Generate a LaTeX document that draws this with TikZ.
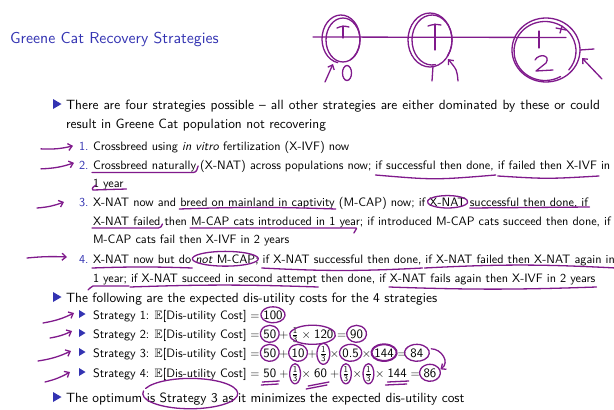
\documentclass[tikz,border=0pt]{standalone}
\usepackage{amssymb}
\usepackage{fontspec}
\setsansfont{lmsans10-regular.otf}[ItalicFont=lmsans10-oblique.otf]
\usetikzlibrary{calc,arrows.meta}
\definecolor{struct}{RGB}{51,51,178}
\definecolor{ink}{RGB}{128,26,140}
\tikzset{
 txt/.style={anchor=base west, inner sep=0pt, outer sep=0pt, font=\sffamily\fontsize{13.4}{16}\selectfont},
 stxt/.style={anchor=base west, inner sep=0pt, outer sep=0pt, font=\sffamily\fontsize{12.2}{15}\selectfont},
 mtxt/.style={anchor=base west, inner sep=0pt, outer sep=0pt, font=\sffamily\fontsize{12.8}{15}\selectfont},
 ttl/.style={anchor=base west, inner sep=0pt, font=\sffamily\fontsize{15.8}{19}\selectfont, text=struct},
 num/.style={stxt, text=struct},
 pen/.style={draw=ink, line width=1.3pt, line cap=round, line join=round},
 penhead/.style={pen, -{Straight Barb[length=4pt,width=7pt]}},
}
\newcommand\wsp{\hbox{}\ \hbox{}}
\newcommand\tchunk[3]{\node[stxt] (#1) at (#2.base east) {#3};}
\newcommand\mchunk[3]{\node[mtxt] (#1) at (#2.base east) {#3};}
\newcommand\op[1]{\kern0.5pt${}#1{}$\kern0.5pt}
\newcommand\inkcirc[4][]{\draw[pen,#1] let \p1=(#2.north east), \p2=(#2.south west), \n1={abs(\x1-\x2)/2+#3}, \n2={abs(\y1-\y2)/2+#4} in ($(\p1)!0.5!(\p2)$) ++(150:\n1 and \n2) arc[start angle=150, end angle=515, x radius=\n1, y radius=\n2];}
\newcommand\inkul[5][]{\draw[pen,#1] ($(#2.base west)+(-1,#4)$) to[bend right=#5] ($(#3.base east)+(1,#4)$);}
\newcommand\bigbul[1]{\fill[struct] (53,#1-5) -- ++(8.5,5) -- ++(-8.5,5) -- cycle;}
\newcommand\subbul[1]{\fill[struct] (79,#1-4) -- ++(6.5,4) -- ++(-6.5,4) -- cycle;}
\newcommand\third{$\frac{\mathsf{1}}{\mathsf{3}}$}
\begin{document}
\begin{tikzpicture}[x=1pt,y=-1pt]
\fill[white] (0,0) rectangle (614,410);
\useasboundingbox (0,0) rectangle (614,410);

% title
\node[ttl] (title) at (10,43) {Greene Cat Recovery Strategies};

% first bullet
\bigbul{104}
\node[txt] (l1) at (66,109) {\makebox[534pt][s]{There are four strategies possible – all other strategies are either dominated by these or could}};
\node[txt] (l1b) at (66,128) {result in Greene Cat population not recovering};

% item 1
\node[num] (n1n) at (79,150) {1.};
\node[stxt] (n1) at (93,150) {Crossbreed using \textit{in vitro} fertilization (X-IVF) now};

% item 2
\node[num] (n2n) at (79,169) {2.};
\node[stxt] (n2a) at (93,169) {Crossbreed naturally};
\tchunk{n2b}{n2a}{\wsp(X-NAT) across populations now;\wsp}
\tchunk{n2c}{n2b}{if successful then done,}
\tchunk{n2d}{n2c}{\wsp}
\tchunk{n2e}{n2d}{if failed then X-IVF}
\tchunk{n2f}{n2e}{\wsp in}
\node[stxt] (n2g) at (93,187) {1 year};

% item 3
\node[num] (n3n) at (79,206) {3.};
\node[stxt] (n3a) at (93,206) {X-NAT now and\wsp};
\tchunk{n3b}{n3a}{breed on mainland in captivity}
\tchunk{n3c}{n3b}{\wsp(M-CAP) now; if\wsp}
\tchunk{n3d}{n3c}{X-NAT}
\tchunk{n3e}{n3d}{\wsp}
\tchunk{n3f}{n3e}{successful then done,}
\tchunk{n3g}{n3f}{\wsp if}
\node[stxt] (n3h) at (93,225) {X-NAT failed};
\tchunk{n3i}{n3h}{\wsp then\wsp}
\tchunk{n3j}{n3i}{M-CAP cats introduced in 1 year}
\tchunk{n3k}{n3j}{; if introduced M-CAP cats succeed then done, if}
\node[stxt] (n3l) at (93,243) {M-CAP cats fail then X-IVF in 2 years};

% item 4
\node[num] (n4n) at (79,263) {4.};
\node[stxt] (n4a) at (93,263) {X-NAT now but do};
\tchunk{n4b}{n4a}{\wsp}
\tchunk{n4c}{n4b}{\textit{not} M-CAP}
\tchunk{n4d}{n4c}{;\wsp}
\tchunk{n4e}{n4d}{if X-NAT successful then done,}
\tchunk{n4f}{n4e}{\wsp}
\tchunk{n4g}{n4f}{if X-NAT failed then X-NAT again in}
\node[stxt] (n4h) at (93,282) {1 year;};
\tchunk{n4i}{n4h}{\wsp}
\tchunk{n4j}{n4i}{if X-NAT succeed in second attempt}
\tchunk{n4k}{n4j}{\wsp then done, if\wsp}
\tchunk{n4l}{n4k}{X-NAT fails again then X-IVF in 2 years}

% second bullet
\bigbul{297}
\node[txt] (l3) at (66,302) {The following are the expected dis-utility costs for the 4 strategies};

% strategy 1
\subbul{314}
\node[stxt] (s1a) at (93,319) {Strategy 1: $\mathbb{E}$[Dis-utility Cost]};
\mchunk{s1b}{s1a}{\op=}
\mchunk{s1c}{s1b}{100}

% strategy 2
\subbul{333}
\node[stxt] (s2a) at (93,338) {Strategy 2: $\mathbb{E}$[Dis-utility Cost]};
\mchunk{s2b}{s2a}{\op=}
\mchunk{s2c}{s2b}{50}
\mchunk{s2d}{s2c}{\op+}
\mchunk{s2e}{s2d}{\third\op\times120}
\mchunk{s2f}{s2e}{\op=}
\mchunk{s2g}{s2f}{90}

% strategy 3
\subbul{352}
\node[stxt] (s3a) at (93,357) {Strategy 3: $\mathbb{E}$[Dis-utility Cost]};
\mchunk{s3b}{s3a}{\op=}
\mchunk{s3c}{s3b}{50}
\mchunk{s3d}{s3c}{\op+}
\mchunk{s3e}{s3d}{10}
\mchunk{s3f}{s3e}{\op+}
\mchunk{s3g}{s3f}{\third}
\mchunk{s3h}{s3g}{\op\times}
\mchunk{s3i}{s3h}{0.5}
\mchunk{s3j}{s3i}{\op\times}
\mchunk{s3k}{s3j}{144}
\mchunk{s3l}{s3k}{\op=}
\mchunk{s3m}{s3l}{84}

% strategy 4
\subbul{372}
\node[stxt] (s4a) at (93,377) {Strategy 4: $\mathbb{E}$[Dis-utility Cost]};
\mchunk{s4b}{s4a}{\op=}
\mchunk{s4c}{s4b}{50}
\mchunk{s4d}{s4c}{\op+}
\mchunk{s4e}{s4d}{\third}
\mchunk{s4f}{s4e}{\op\times}
\mchunk{s4g}{s4f}{60}
\mchunk{s4h}{s4g}{\op+}
\mchunk{s4i}{s4h}{\third}
\mchunk{s4j}{s4i}{\op\times}
\mchunk{s4k}{s4j}{\third}
\mchunk{s4l}{s4k}{\op\times}
\mchunk{s4m}{s4l}{144}
\mchunk{s4n}{s4m}{\op=}
\mchunk{s4o}{s4n}{86}

% last bullet
\bigbul{397}
\node[txt] (l4a) at (66,402) {The optimum\wsp};
\node[txt] (l4b) at (l4a.base east) {is Strategy 3 as};
\node[txt] (l4c) at (l4b.base east) {\wsp it minimizes the expected dis-utility cost};

% ---------------- handwriting ----------------
% top-right sketch
\draw[pen] (313,37) -- (566,37.5);
\draw[pen] (343,40) ellipse [x radius=17, y radius=22];
\draw[pen] (341,39) ++(100:19 and 24) arc[start angle=100, end angle=420, x radius=19, y radius=24];
\draw[pen] (343,26) -- (343,38);
\draw[pen] (337,28) to[bend left=20] (349,27);
\draw[penhead] (325,82) -- (333,64);
\draw[pen] (347,73) ellipse [x radius=4.5, y radius=7.5];
\draw[pen] (430,40) ellipse [x radius=22, y radius=27];
\draw[pen] (432,40) ++(80:20 and 25) arc[start angle=80, end angle=400, x radius=20, y radius=25];
\draw[pen] (435,24) -- (435,50);
\draw[pen] (428,26) to[bend left=15] (441,25);
\draw[pen] (433,66) -- (432,81);
\draw[penhead] (458,81) .. controls (457,70) .. (448,59);
\draw[pen] (546,50) ellipse [x radius=34, y radius=32];
\draw[pen] (545,51) ++(60:31 and 29.5) arc[start angle=60, end angle=400, x radius=31, y radius=29.5];
\draw[pen] (539,31) -- (539,48);
\draw[pen] (535,60) .. controls (539,53) and (551,55) .. (546,63) -- (536,71) -- (553,70);
\draw[pen] (556,28) -- (566,30);
\draw[pen] (562,26) -- (560,33);
\draw[pen] (580,50) -- (594,49);
\draw[penhead] (602,79) -- (582,58);

% left arrows
\draw[penhead] ($(n1n.west)+(-38,3)$) to[bend right=8] ($(n1n.west)+(-6,0)$);
\draw[penhead] ($(n2n.west)+(-38,4)$) to[bend right=8] ($(n2n.west)+(-5,-2)$);
\draw[penhead] ($(n3n.west)+(-42,6)$) to[bend right=8] ($(n3n.west)+(-15,0)$);
\draw[penhead] ($(n4n.west)+(-52,-1)$) to[bend left=4] ($(n4n.west)+(-12,-2)$);
\coordinate (sb1) at (79,314);
\coordinate (sb2) at (79,333);
\coordinate (sb3) at (79,352);
\coordinate (sb4) at (79,372);
\draw[penhead] ($(sb1)+(-36,9)$) to[bend right=8] ($(sb1)+(-5,-1)$);
\draw[penhead] ($(sb2)+(-29,5)$) to[bend right=8] ($(sb2)+(-7,-2)$);
\draw[penhead] ($(sb3)+(-41,9)$) to[bend right=8] ($(sb3)+(-8,-1)$);
\draw[penhead] ($(sb4)+(-34,10)$) to[bend right=8] ($(sb4)+(-9,0)$);

% item 2 marks
\draw[pen] ($(n2a.base west)+(-1,3.5)$) -- ($(n2a.base east)+(-3,3.5)$) to[out=0,in=-100] ($(n2a.base east)+(2,-3)$);
\draw[pen] ($(n2c.base west)+(0,6)$) .. controls ($(n2c.base)+(0,11)$) .. ($(n2c.base east)+(2,6)$);
\draw[pen] ($(n2e.base west)+(0,7)$) .. controls ($(n2e.base)+(0,10)$) .. ($(n2e.base east)+(2,7)$);
\draw[pen] ($(n2g.base west)+(3,-2)$) to[out=200,in=150] ($(n2g.base west)+(0,3)$) -- ($(n2g.base east)+(3,2)$);

% item 3 marks
\inkul{n3b}{n3b}{3}{-2}
\inkcirc{n3d}{2}{2}
\draw[pen] ($(n3f.base west)+(0,2)$) -- ($(n3f.base east)+(12,1)$);
\draw[pen] ($(n3h.base west)+(-1,3)$) -- ($(n3h.base east)+(-2,3)$) to[out=0,in=-110] ($(n3h.base east)+(2,-1)$);
\draw[pen] ($(n3j.base west)+(-1,3)$) -- ($(n3j.base east)+(-4,3)$) to[out=0,in=80] ($(n3j.base east)+(-6,8)$);

% item 4 marks
\inkul{n4a}{n4a}{5}{-2}
\inkcirc{n4c}{3}{3}
\inkul{n4e}{n4e}{5}{3}
\inkul{n4g}{n4g}{5}{-3}
\draw[pen] ($(n4h.base west)+(-5,8)$) to[out=20,in=180] ($(n4h.base west)+(0,4)$) -- ($(n4h.base east)+(2,4)$);
\inkul{n4j}{n4j}{5}{-2}
\inkul{n4l}{n4l}{5}{2}

% strategy marks
\inkcirc{s1c}{2.5}{3.5}
\inkcirc{s2c}{3}{4}
\inkcirc{s2e}{2}{2}
\inkcirc{s2g}{3.5}{4}
\inkcirc{s3c}{3}{4}
\inkcirc{s3e}{3}{4}
\inkcirc{s3g}{3}{3}
\inkcirc{s3i}{3}{4}
\inkcirc[line width=2pt]{s3k}{3}{4}
\inkcirc{s3m}{6}{4}
\draw[penhead] ($(s3m.east)+(8,-4)$) .. controls ($(s3m.east)+(18,-4)$) and ($(s4o.north east)+(14,-6)$) .. ($(s4o.north east)+(4,1)$);
\inkcirc{s4e}{2}{2.5}
\inkcirc{s4i}{2}{2.5}
\inkcirc{s4k}{2}{2.5}
\inkcirc{s4o}{4}{4}
\draw[pen] ($(s4c.base west)+(-1,5)$) -- ($(s4c.base east)+(3,4)$);
\draw[pen] ($(s4c.base west)+(-2,8)$) -- ($(s4c.base east)+(2,7)$);
\draw[pen] ($(s4g.base west)+(-6,9)$) -- ($(s4g.base east)+(2,5)$);
\draw[pen] ($(s4g.base west)+(-8,12)$) -- ($(s4g.base east)+(0,8)$);
\draw[pen] ($(s4m.base west)+(0,5)$) -- ($(s4m.base east)+(2,4)$);
\draw[pen] ($(s4m.base west)+(-2,8)$) -- ($(s4m.base east)+(0,7)$);

% conclusion mark
\draw[pen] let \p1=(l4b.north east), \p2=(l4b.south west), \n1={abs(\x1-\x2)/2+4}, \n2={abs(\y1-\y2)/2+9} in ($(\p1)!0.5!(\p2)+(0,-5)$) ++(170:\n1 and \n2) arc[start angle=170, end angle=520, x radius=\n1, y radius=\n2];
\end{tikzpicture}
\end{document}
